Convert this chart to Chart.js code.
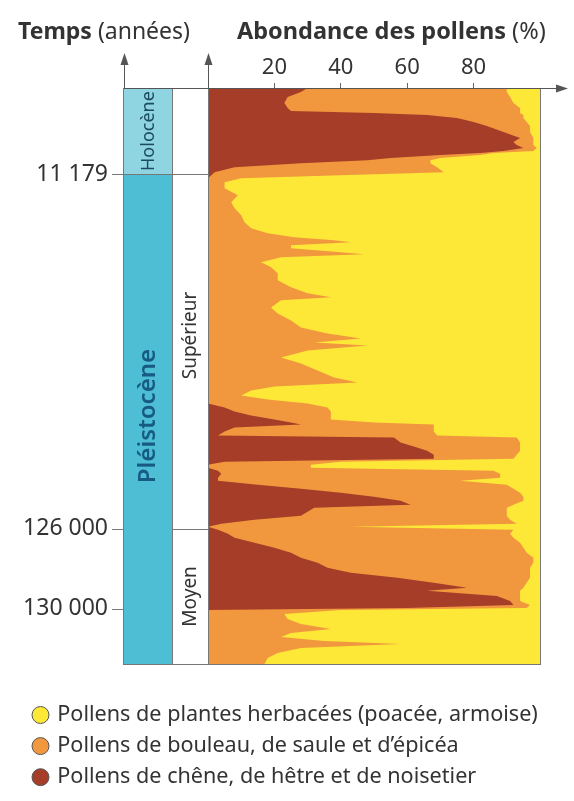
<!DOCTYPE html>
<html lang="fr">
<head>
<meta charset="utf-8">
<title>Abondance des pollens</title>
<script src="https://cdn.jsdelivr.net/npm/chart.js@4.4.1/dist/chart.umd.min.js"></script>
<style>
  html, body { margin: 0; padding: 0; background: #fff; }
  #wrap { width: 574px; height: 801px; position: relative; }
</style>
</head>
<body>
<div id="wrap"><canvas id="pollen-chart"></canvas></div>
<script>
// profondeur dans la carotte (haut = récent), unités arbitraires 0..575
const depths = [
  0, 4, 9, 15, 20, 23, 25, 27, 30, 34, 38, 44, 50, 54, 57, 60, 63, 65, 67, 70,
  72, 75, 79, 84, 87, 90, 94, 100, 107, 114, 120, 127, 134, 140, 145, 149, 152, 154, 157, 160,
  164, 166, 169, 174, 179, 185, 192, 199, 205, 209, 212, 219, 225, 232, 239, 245, 250, 254, 257, 262,
  269, 275, 282, 289, 294, 298, 302, 307, 311, 315, 319, 323, 327, 331, 334, 336, 339, 343, 347, 349,
  354, 358, 362, 366, 370, 373, 376, 379, 382, 385, 389, 392, 396, 400, 404, 408, 412, 416, 419, 423,
  427, 431, 435, 438, 441, 445, 449, 454, 459, 464, 469, 474, 479, 484, 489, 494, 499, 502, 507, 512,
  516, 519, 521, 525, 530, 535, 540, 544, 548, 552, 555, 559, 564, 569, 575
];
// chêne, hêtre, noisetier (%)
const chene = [
  30, 28, 24, 23, 24, 25, 50, 66, 75, 80, 84, 89, 94, 92, 93, 95, 89, 82, 70, 55,
  48, 28, 8, 2, 1, 0, 0, 0, 0, 0, 0, 0, 0, 0, 0, 0, 0, 0, 0, 0,
  0, 0, 0, 0, 0, 0, 0, 0, 0, 0, 0, 0, 0, 0, 0, 0, 0, 0, 0, 0,
  0, 0, 0, 0, 0, 0, 0, 0, 0, 0, 5, 8, 13, 20, 25, 28, 8, 5, 3, 56,
  58, 62, 66, 68, 68, 5, 0, 0, 3, 4, 3, 3, 15, 28, 40, 50, 58, 61, 32, 30,
  28, 14, 4, 0, 3, 6, 8, 14, 20, 25, 28, 33, 36, 43, 57, 68, 78, 66, 87, 91,
  92, 60, 0, 0, 0, 0, 0, 0, 0, 0, 0, 0, 0, 0, 0
];
// bouleau, saule, épicéa (%)
const bouleau = [
  60, 62, 67, 69, 70, 69, 44, 29, 20, 16, 13, 8, 4, 6, 5, 4, 9, 4, 12, 15,
  19, 39, 61, 69, 39, 10, 5, 5, 9, 7, 8, 10, 11, 13, 18, 26, 38, 43, 25, 25,
  40, 47, 22, 16, 19, 21, 21, 25, 30, 37, 22, 19, 21, 25, 28, 36, 46, 32, 48, 30,
  22, 28, 33, 38, 45, 20, 13, 10, 18, 30, 31, 29, 24, 17, 25, 40, 60, 63, 66, 37,
  36, 32, 28, 25, 24, 35, 31, 31, 83, 84, 85, 73, 75, 64, 54, 45, 37, 31, 58, 60,
  62, 77, 89, 43, 89, 85, 84, 80, 75, 71, 70, 65, 61, 54, 40, 28, 17, 28, 7, 3,
  5, 36, 40, 23, 24, 28, 37, 25, 22, 35, 58, 28, 21, 18, 17
];
// plantes herbacées : poacée, armoise (%)
const herbacees = [
  10, 10, 9, 8, 6, 6, 6, 5, 5, 4, 3, 3, 2, 2, 2, 1, 2, 14, 18, 30,
  33, 33, 31, 29, 60, 90, 95, 95, 91, 93, 92, 90, 89, 87, 82, 74, 62, 57, 75, 75,
  60, 53, 78, 84, 81, 79, 79, 75, 70, 63, 78, 81, 79, 75, 72, 64, 54, 68, 52, 70,
  78, 72, 67, 62, 55, 80, 87, 90, 82, 70, 64, 63, 63, 63, 50, 32, 32, 32, 31, 7,
  6, 6, 6, 7, 8, 60, 69, 69, 14, 12, 12, 24, 10, 8, 6, 5, 5, 8, 10, 10,
  10, 9, 7, 57, 8, 9, 8, 6, 5, 4, 2, 2, 3, 3, 3, 4, 5, 6, 6, 6,
  3, 4, 60, 77, 76, 72, 63, 75, 78, 65, 42, 72, 79, 82, 83
];
const pctTicks = [20, 40, 60, 80];
const timeLabels = ['11 179', '126 000', '130 000'];
const timeDepths = [86, 440, 520];

const darkRed = '#a63d28';
const orange = '#f1983e';
const yellow = '#fde838';
const cyanLight = '#8fd4e1';
const cyanDark = '#4dbed4';
const textColor = '#333';
const lineColor = '#777';
const fontFamily = '"Noto Sans", "DejaVu Sans", sans-serif';

const points = (values) => depths.map((d, i) => ({ x: values[i], y: d }));

function arrowHead(ctx, x, y, dir) {
  ctx.beginPath();
  if (dir === 'up') {
    ctx.moveTo(x, y);
    ctx.lineTo(x - 4, y + 12);
    ctx.lineTo(x + 4, y + 12);
  } else {
    ctx.moveTo(x, y);
    ctx.lineTo(x - 12, y - 4);
    ctx.lineTo(x - 12, y + 4);
  }
  ctx.closePath();
  ctx.fill();
}

function mixedText(ctx, x, y, boldPart, rest, size) {
  ctx.font = `bold ${size}px ${fontFamily}`;
  ctx.fillText(boldPart, x, y);
  const w = ctx.measureText(boldPart).width;
  ctx.font = `${size}px ${fontFamily}`;
  ctx.fillText(rest, x + w, y);
}

function vText(ctx, text, x, y, font, color) {
  ctx.save();
  ctx.translate(x, y);
  ctx.rotate(-Math.PI / 2);
  ctx.font = font;
  ctx.fillStyle = color;
  ctx.textAlign = 'center';
  ctx.textBaseline = 'middle';
  ctx.fillText(text, 0, 0);
  ctx.restore();
}

const decor = {
  id: 'decor',
  beforeDatasetsDraw(chart) {
    const { ctx, chartArea: a, scales: { y } } = chart;
    const yHolo = y.getPixelForValue(timeDepths[0]);
    const yMoyen = y.getPixelForValue(timeDepths[1]);
    const yLast = y.getPixelForValue(timeDepths[2]);
    const c0 = 123, c1 = 172;
    ctx.save();
    ctx.fillStyle = cyanLight;
    ctx.fillRect(c0, a.top, c1 - c0, yHolo - a.top);
    ctx.fillStyle = cyanDark;
    ctx.fillRect(c0, yHolo, c1 - c0, a.bottom - yHolo);
    ctx.strokeStyle = lineColor;
    ctx.lineWidth = 1;
    ctx.strokeRect(c0 + 0.5, a.top + 0.5, c1 - c0, a.bottom - a.top);
    ctx.strokeRect(c1 + 0.5, a.top + 0.5, a.left - c1, a.bottom - a.top);
    ctx.beginPath();
    ctx.moveTo(112, Math.round(yHolo) + 0.5);
    ctx.lineTo(a.left, Math.round(yHolo) + 0.5);
    ctx.moveTo(112, Math.round(yMoyen) + 0.5);
    ctx.lineTo(c0, Math.round(yMoyen) + 0.5);
    ctx.moveTo(c1, Math.round(yMoyen) + 0.5);
    ctx.lineTo(a.left, Math.round(yMoyen) + 0.5);
    ctx.moveTo(112, Math.round(yLast) + 0.5);
    ctx.lineTo(c0, Math.round(yLast) + 0.5);
    ctx.stroke();

    const cx = (c0 + c1) / 2 + 1;
    const wx = (c1 + a.left) / 2 + 1;
    vText(ctx, 'Holocène', cx, (a.top + yHolo) / 2, `18px ${fontFamily}`, '#1d4a63');
    vText(ctx, 'Pléistocène', cx, (yHolo + a.bottom) / 2 - 3, `600 24px ${fontFamily}`, '#175a84');
    vText(ctx, 'Supérieur', wx, (yHolo + yMoyen) / 2 - 16, `19px ${fontFamily}`, textColor);
    vText(ctx, 'Moyen', wx, (yMoyen + a.bottom) / 2, `19px ${fontFamily}`, textColor);
    ctx.restore();
  },
  afterDraw(chart) {
    const { ctx, chartArea: a } = chart;
    ctx.save();
    ctx.strokeStyle = lineColor;
    ctx.lineWidth = 1;
    ctx.strokeRect(a.left + 0.5, a.top + 0.5, a.right - a.left, a.bottom - a.top);
    ctx.strokeStyle = '#555';
    ctx.fillStyle = '#555';
    ctx.beginPath();
    ctx.moveTo(124.5, a.top);
    ctx.lineTo(124.5, 62);
    ctx.moveTo(a.left + 0.5, a.top);
    ctx.lineTo(a.left + 0.5, 62);
    ctx.moveTo(124, a.top + 0.5);
    ctx.lineTo(558, a.top + 0.5);
    ctx.stroke();
    arrowHead(ctx, 124.5, 53, 'up');
    arrowHead(ctx, a.left + 0.5, 53, 'up');
    arrowHead(ctx, 568, a.top + 0.5, 'right');

    ctx.fillStyle = textColor;
    ctx.textBaseline = 'alphabetic';
    ctx.textAlign = 'left';
    mixedText(ctx, 18, 39, 'Temps', ' (années)', 23);
    mixedText(ctx, 237, 39, 'Abondance des pollens', ' (%)', 23.5);
    ctx.restore();
  }
};

new Chart(document.getElementById('pollen-chart').getContext('2d'), {
  type: 'line',
  data: {
    datasets: [
      { label: 'Pollens de chêne, de hêtre et de noisetier', data: points(chene), backgroundColor: darkRed, fill: 'origin' },
      { label: 'Pollens de bouleau, de saule et d’épicéa', data: points(bouleau), backgroundColor: orange, fill: 'origin' },
      { label: 'Pollens de plantes herbacées (poacée, armoise)', data: points(herbacees), backgroundColor: yellow, fill: 'origin' },
    ],
  },
  options: {
    indexAxis: 'y',
    animation: false,
    responsive: true,
    maintainAspectRatio: false,
    elements: {
      point: { radius: 0 },
      line: { borderWidth: 0, tension: 0 },
    },
    layout: { padding: { left: 25, right: 34, top: 0, bottom: 3 } },
    scales: {
      x: {
        type: 'linear',
        position: 'top',
        stacked: true,
        min: 0,
        max: 100,
        afterBuildTicks: (s) => { s.ticks = pctTicks.map((v) => ({ value: v })); },
        afterFit: (s) => { s.height = 88; },
        grid: { drawOnChartArea: false, tickLength: 5, color: '#666' },
        border: { display: false },
        ticks: { padding: 2, color: textColor, font: { family: fontFamily, size: 22 } },
      },
      y: {
        type: 'linear',
        reverse: true,
        min: 0,
        max: 575,
        afterBuildTicks: (s) => { s.ticks = timeDepths.map((v) => ({ value: v })); },
        afterFit: (s) => { s.width = 183; s.paddingTop = 0; s.paddingBottom = 0; },
        grid: { display: false, drawTicks: false },
        border: { display: false },
        ticks: {
          padding: 100,
          color: textColor,
          font: { family: fontFamily, size: 23 },
          callback: (v) => timeLabels[timeDepths.indexOf(v)],
        },
      },
    },
    plugins: {
      tooltip: { enabled: false },
      legend: {
        position: 'bottom',
        align: 'start',
        title: { display: true, text: '', padding: { top: 29.5, bottom: 0 }, font: { size: 1 } },
        labels: {
          usePointStyle: true,
          boxWidth: 12,
          boxHeight: 12,
          padding: 9.5,
          color: textColor,
          font: { family: fontFamily, size: 21.6 },
          generateLabels: (chart) => chart.data.datasets.map((ds, i) => ({
            text: ds.label,
            fillStyle: ds.backgroundColor,
            strokeStyle: '#555',
            lineWidth: 1,
            pointStyle: 'circle',
            hidden: false,
            datasetIndex: i,
            fontColor: textColor,
          })).reverse(),
        },
      },
    },
  },
  plugins: [decor],
});
</script>
</body>
</html>
